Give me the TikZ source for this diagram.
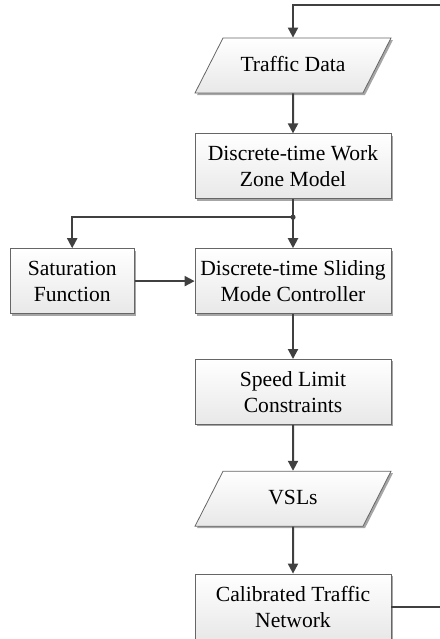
\documentclass[tikz,border=0pt]{standalone}
\usepackage{fontspec}
\setmainfont{Liberation Serif}
\usetikzlibrary{arrows.meta, positioning, shapes.geometric, shadows}

\begin{document}
\begin{tikzpicture}[
    x=0.5pt, y=-0.5pt,
    box/.style={draw=black!60, top color=white, bottom color=black!9, align=center, minimum width=98pt, minimum height=32.5pt, inner sep=1pt, font=\fontsize{10.8}{13}\selectfont, drop shadow={shadow xshift=1pt, shadow yshift=-1pt, fill=black!35, opacity=1}},
    io/.style={box, trapezium, trapezium left angle=63, trapezium right angle=117, trapezium stretches body, minimum height=0pt, text height=8pt, text depth=2.5pt, inner ysep=8.5pt},
    arrow/.style={-{Triangle[length=5pt, width=5pt]}, line width=1pt, draw=black!75}
]
    \useasboundingbox (0,0) rectangle (440,639);
    \node[io] (data) at (293,65.5) {Traffic Data};
    \node[box, below=20pt of data] (model) {Discrete-time Work\\ Zone Model};
    \coordinate[below=9pt of model] (split);
    \node[box, below=24.5pt of model] (smc) {Discrete-time Sliding\\ Mode Controller};
    \node[box, left=30pt of smc, minimum width=62pt] (sat) {Saturation\\ Function};
    \node[box, below=22.5pt of smc] (slc) {Speed Limit\\ Constraints};
    \node[io, below=23pt of slc] (vsl) {VSLs};
    \node[box, below=23.5pt of vsl] (net) {Calibrated Traffic\\ Network};
    \coordinate (loop) at (446,5);
    \draw[arrow] (data) -- (model);
    \draw[arrow] (model) -- (smc);
    \draw[arrow] (split) -| (sat);
    \fill[black!75] (split) circle (1.3pt);
    \draw[arrow] (sat) -- (smc);
    \draw[arrow] (smc) -- (slc);
    \draw[arrow] (slc) -- (vsl);
    \draw[arrow] (vsl) -- (net);
    \draw[arrow] (net.east) -| (loop) -| (data.north);
\end{tikzpicture}
\end{document}
